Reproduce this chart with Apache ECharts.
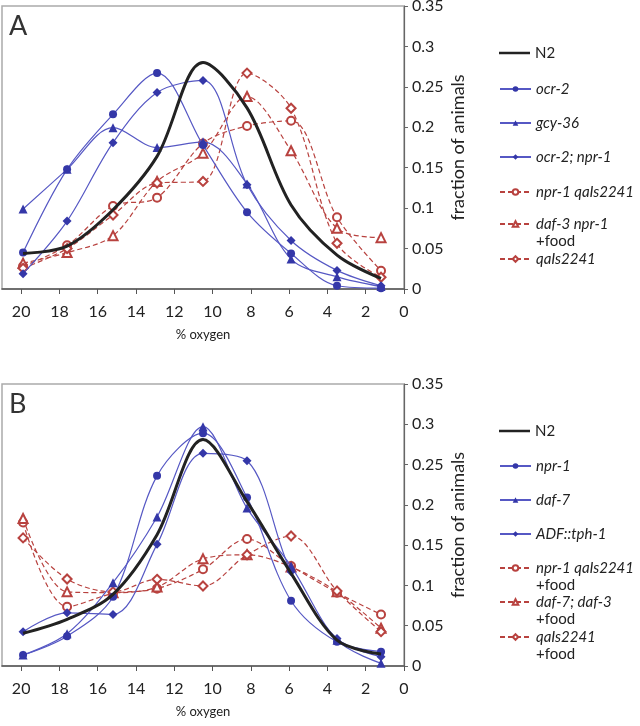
<!DOCTYPE html>
<html><head><meta charset="utf-8">
<script src="https://cdn.jsdelivr.net/npm/echarts@6/dist/echarts.min.js"></script>
<style>html,body{margin:0;padding:0;background:#fff}#c{width:640px;height:726px}</style>
</head><body><div id="c"></div>
<script>
// ---- data ----
const oxygen = [19.9, 17.6, 15.2, 12.9, 10.5, 8.2, 5.9, 3.5, 1.2];
const xTickValues = [0, 2, 4, 6, 8, 10, 12, 14, 16, 18, 20];

// Panel A
const aN2       = [0.044, 0.053, 0.098, 0.164, 0.280, 0.224, 0.104, 0.042, 0.013];
const aOcr2     = [0.045, 0.148, 0.216, 0.267, 0.178, 0.095, 0.044, 0.004, 0.001];
const aGcy36    = [0.099, 0.148, 0.1995, 0.175, 0.182, 0.130, 0.037, 0.015, 0.003];
const aOcr2Npr1 = [0.019, 0.084, 0.181, 0.243, 0.258, 0.129, 0.060, 0.023, 0.004];
const aNpr1Qa   = [0.028, 0.054, 0.1026, 0.113, 0.180, 0.2016, 0.208, 0.0887, 0.0226];
const aDaf3Npr1 = [0.032, 0.045, 0.066, 0.133, 0.168, 0.238, 0.171, 0.075, 0.0635];
const aQa       = [0.0256, 0.050, 0.0915, 0.131, 0.133, 0.267, 0.2235, 0.0565, 0.0145];

// Panel B
const bN2          = [0.0406, 0.058, 0.089, 0.163, 0.281, 0.204, 0.115, 0.032, 0.015];
const bNpr1        = [0.0136, 0.037, 0.086, 0.236, 0.289, 0.209, 0.081, 0.030, 0.0178];
const bDaf7        = [0.0136, 0.040, 0.1034, 0.185, 0.297, 0.196, 0.124, 0.032, 0.0033];
const bAdfTph1     = [0.0426, 0.066, 0.064, 0.151, 0.264, 0.2548, 0.117, 0.034, 0.0115];
const bNpr1QaFood  = [0.178, 0.0736, 0.090, 0.096, 0.120, 0.1576, 0.124, 0.091, 0.064];
const bDaf7Daf3Food= [0.183, 0.092, 0.091, 0.098, 0.133, 0.138, 0.123, 0.092, 0.047];
const bQaFood      = [0.159, 0.108, 0.092, 0.1076, 0.0993, 0.138, 0.1613, 0.093, 0.0426];

const seriesA = [
  ['N2', aN2, 'n2'],
  ['ocr-2', aOcr2, 'bc'],
  ['gcy-36', aGcy36, 'bt'],
  ['ocr-2; npr-1', aOcr2Npr1, 'bd'],
  ['npr-1 qaIs2241', aNpr1Qa, 'rc'],
  ['daf-3 npr-1 +food', aDaf3Npr1, 'rt'],
  ['qaIs2241', aQa, 'rd']
];
const seriesB = [
  ['N2', bN2, 'n2'],
  ['npr-1', bNpr1, 'bc'],
  ['daf-7', bDaf7, 'bt'],
  ['ADF::tph-1', bAdfTph1, 'bd'],
  ['npr-1 qaIs2241 +food', bNpr1QaFood, 'rc'],
  ['daf-7; daf-3 +food', bDaf7Daf3Food, 'rt'],
  ['qaIs2241 +food', bQaFood, 'rd']
];

// ---- styles ----
const FONT = 'Lato, "Open Sans", sans-serif';
const BLUE_LINE = '#5658c4', BLUE_MARK = '#3437a8', RED = '#b8423f', BLACK = '#222';
const kinds = {
  n2: {symbol: 'none', lineStyle: {color: BLACK, width: 3}, itemStyle: {color: BLACK}, z: 5},
  bc: {symbol: 'circle', symbolSize: 8, lineStyle: {color: BLUE_LINE, width: 1.2}, itemStyle: {color: BLUE_MARK}, z: 4},
  bt: {symbol: 'triangle', symbolSize: 9, lineStyle: {color: BLUE_LINE, width: 1.2}, itemStyle: {color: BLUE_MARK}, z: 4},
  bd: {symbol: 'diamond', symbolSize: 9, lineStyle: {color: BLUE_LINE, width: 1.2}, itemStyle: {color: BLUE_MARK}, z: 4},
  rc: {symbol: 'emptyCircle', symbolSize: 8, lineStyle: {color: RED, width: 1.2, type: [5, 3]}, itemStyle: {color: RED, borderWidth: 1}, z: 3},
  rt: {symbol: 'emptyTriangle', symbolSize: 9, lineStyle: {color: RED, width: 1.2, type: [5, 3]}, itemStyle: {color: RED, borderWidth: 1}, z: 3},
  rd: {symbol: 'emptyDiamond', symbolSize: 9, lineStyle: {color: RED, width: 1.2, type: [5, 3]}, itemStyle: {color: RED, borderWidth: 1}, z: 3}
};

function buildSeries(list, idx) {
  return list.map(([name, vals, kind]) => Object.assign({
    name, type: 'line', xAxisIndex: idx, yAxisIndex: idx, smooth: 0.33,
    data: oxygen.map((x, i) => [x, vals[i]]),
    emphasis: {disabled: true}
  }, JSON.parse(JSON.stringify(kinds[kind]))));
}

function xAxis(idx) {
  return {
    type: 'value', gridIndex: idx, min: 0, max: 21, inverse: true, interval: 2,
    axisLine: {show: true, onZero: false, lineStyle: {color: '#555', width: 1.5}},
    axisTick: {show: true, length: 5, customValues: xTickValues, lineStyle: {color: '#555'}},
    axisLabel: {customValues: xTickValues, fontSize: 16, color: '#222', margin: 15, fontFamily: FONT},
    splitLine: {show: false},
    name: '% oxygen', nameLocation: 'middle', nameGap: 39, nameMoveOverlap: false,
    nameTextStyle: {fontSize: 13, color: '#222', fontFamily: FONT}
  };
}
function yAxis(idx) {
  return {
    type: 'value', gridIndex: idx, position: 'right', min: 0, max: 0.35, interval: 0.05,
    axisLine: {show: true, lineStyle: {color: '#666', width: 1.2}},
    axisTick: {show: true, length: 4, lineStyle: {color: '#666'}},
    axisLabel: {fontSize: 16, color: '#222', margin: 8, fontFamily: FONT},
    splitLine: {show: false},
    name: 'fraction of animals', nameLocation: 'middle', nameGap: 45, nameMoveOverlap: false,
    nameTextStyle: {fontSize: 18, color: '#222', fontFamily: FONT}
  };
}

const legendText = {
  'N2': '{n|N2}',
  'ocr-2': '{i|ocr-2}', 'gcy-36': '{i|gcy-36}', 'ocr-2; npr-1': '{i|ocr-2; npr-1}',
  'npr-1 qaIs2241': '{i|npr-1 qaIs2241}', 'daf-3 npr-1 +food': '{i|daf-3 npr-1}\n{n|+food}',
  'qaIs2241': '{i|qaIs2241}', 'npr-1': '{i|npr-1}', 'daf-7': '{i|daf-7}', 'ADF::tph-1': '{i|ADF::tph-1}',
  'npr-1 qaIs2241 +food': '{i|npr-1 qaIs2241}\n{n|+food}',
  'daf-7; daf-3 +food': '{i|daf-7; daf-3}\n{n|+food}',
  'qaIs2241 +food': '{i|qaIs2241}\n{n|+food}'
};
const legendRowsA = [['N2', 53], ['ocr-2', 89], ['gcy-36', 123], ['ocr-2; npr-1', 157], ['npr-1 qaIs2241', 192], ['daf-3 npr-1 +food', 224], ['qaIs2241', 259]];
const legendRowsB = [['N2', 431], ['npr-1', 466], ['daf-7', 500], ['ADF::tph-1', 534], ['npr-1 qaIs2241 +food', 568], ['daf-7; daf-3 +food', 602], ['qaIs2241 +food', 637]];
const LH = 17;
function buildLegends(rows) {
  return rows.map(([name, y]) => {
    const two = legendText[name].indexOf('\n') >= 0;
    const isN2 = name === 'N2';
    const h = isN2 ? 2.5 : 7;
    return {
      left: 499, top: two ? y - 1.5 * LH : y - LH / 2, padding: 0, itemGap: 0,
      itemWidth: 31, itemHeight: h, selectedMode: false,
      data: [isN2 ? {name, icon: 'rect'} : {name}],
      formatter: n => legendText[n],
      textStyle: {
        fontFamily: FONT, fontSize: 15, color: '#222', lineHeight: LH,
        padding: two ? [LH, 0, 0, 0] : 0,
        rich: {
          i: {fontStyle: 'italic', fontSize: 15, fontFamily: FONT, color: '#222', lineHeight: LH},
          n: {fontSize: 15, fontFamily: FONT, color: '#222', lineHeight: LH}
        }
      }
    };
  });
}

const chart = echarts.init(document.getElementById('c'), null, {renderer: 'canvas'});
chart.setOption({
  backgroundColor: '#fff',
  animation: false,
  title: [
    {text: 'A', left: 9, top: 13, padding: 0, textStyle: {fontSize: 27, fontWeight: 'normal', color: '#333', fontFamily: FONT}},
    {text: 'B', left: 9, top: 391, padding: 0, textStyle: {fontSize: 27, fontWeight: 'normal', color: '#333', fontFamily: FONT}}
  ],
  grid: [
    {left: 2, top: 6, width: 402, height: 283, show: true, borderColor: '#aaa', borderWidth: 1.5, outerBoundsMode: 'none', containLabel: false},
    {left: 2, top: 384, width: 402, height: 282, show: true, borderColor: '#aaa', borderWidth: 1.5, outerBoundsMode: 'none', containLabel: false}
  ],
  xAxis: [xAxis(0), xAxis(1)],
  yAxis: [yAxis(0), yAxis(1)],
  legend: buildLegends(legendRowsA).concat(buildLegends(legendRowsB)),
  series: buildSeries(seriesA, 0).concat(buildSeries(seriesB, 1))
});
</script>
</body></html>
